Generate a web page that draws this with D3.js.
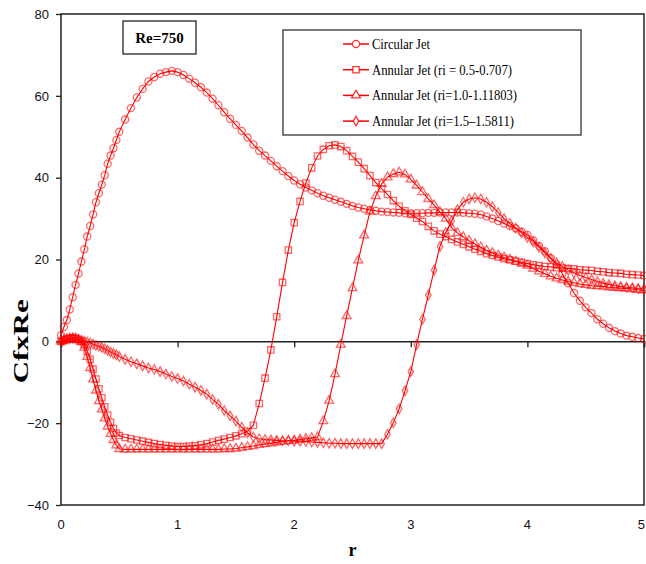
<!DOCTYPE html>
<html>
<head>
<meta charset="utf-8">
<script src="https://cdn.jsdelivr.net/npm/d3@7"></script>
<style>
  body { margin: 0; background: #fff; }
  svg { display: block; }
</style>
</head>
<body>
<div id="container"></div>
<script>
// r positions (shared by all series)
const rValues = [0, 0.025, 0.05, 0.075, 0.1, 0.125, 0.15, 0.175, 0.2, 0.225, 0.25, 0.275, 0.3, 0.325, 0.35, 0.375, 0.4, 0.425, 0.45, 0.475, 0.5,
  0.55, 0.6, 0.65, 0.7, 0.75, 0.8, 0.85, 0.9, 0.95, 1.0,
  1.05, 1.1, 1.15, 1.2, 1.25, 1.3, 1.35, 1.4, 1.45, 1.5,
  1.55, 1.6, 1.65, 1.7, 1.75, 1.8, 1.85, 1.9, 1.95, 2.0,
  2.05, 2.1, 2.15, 2.2, 2.25, 2.3, 2.35, 2.4, 2.45, 2.5,
  2.55, 2.6, 2.65, 2.7, 2.75, 2.8, 2.85, 2.9, 2.95, 3.0,
  3.05, 3.1, 3.15, 3.2, 3.25, 3.3, 3.35, 3.4, 3.45, 3.5,
  3.55, 3.6, 3.65, 3.7, 3.75, 3.8, 3.85, 3.9, 3.95, 4.0,
  4.05, 4.1, 4.15, 4.2, 4.25, 4.3, 4.35, 4.4, 4.45, 4.5,
  4.55, 4.6, 4.65, 4.7, 4.75, 4.8, 4.85, 4.9, 4.95, 5.0];

const circularJet = [1.5, 3.5, 5.2, 7.8, 10.8, 13.8, 16.6, 19.5, 22.5, 25.6, 28.2, 31.0, 34.0, 36.2, 38.3, 40.6, 43.4, 45.4, 47.2, 49.2, 51.2,
  54.2, 57.0, 59.6, 61.7, 63.5, 64.6, 65.4, 65.8, 66.1, 65.8,
  65.1, 64.2, 63.2, 62.1, 60.8, 59.3, 57.7, 56.0, 54.4, 52.9,
  51.4, 49.8, 48.1, 46.6, 45.4, 44.1, 42.8, 41.6, 40.4, 39.3,
  38.4, 37.6, 36.9, 36.2, 35.6, 35.1, 34.6, 34.1, 33.6, 33.1,
  32.7, 32.4, 32.1, 31.9, 31.7, 31.6, 31.5, 31.4, 31.3, 31.3,
  31.3, 31.3, 31.4, 31.4, 31.5, 31.5, 31.5, 31.5, 31.4, 31.3,
  31.2, 31.0, 30.5, 30.0, 29.4, 28.8, 28.2, 27.6, 26.8, 26.0,
  24.7, 23.3, 22.0, 20.4, 18.8, 16.5, 14.2, 11.8, 9.9, 8.3,
  6.9, 5.4, 4.3, 3.3, 2.5, 1.9, 1.4, 1.1, 0.8, 0.6];

const annular05 = [0, 0.3, 0.5, 0.7, 0.8, 0.7, 0.5, 0.1, -0.8, -2.4, -4.4, -6.8, -9.2, -11.6, -13.8, -16.0, -18.0, -19.8, -21.3, -22.4, -23.0,
  -23.5, -23.8, -24.1, -24.4, -24.7, -25.0, -25.2, -25.4, -25.6, -25.7,
  -25.7, -25.6, -25.5, -25.3, -25.0, -24.6, -24.2, -23.9, -23.5, -23.1,
  -22.6, -22.0, -20.5, -15.2, -9.0, -2.1, 6.0, 14.4, 22.3, 29.0,
  34.2, 38.7, 42.4, 45.3, 46.9, 47.8, 48.0, 47.6, 46.6, 45.2,
  43.8, 42.2, 40.5, 38.8, 37.3, 35.9, 34.4, 33.0, 31.9, 31.0,
  30.1, 29.3, 28.1, 27.0, 26.2, 25.6, 24.9, 24.3, 23.7, 23.1,
  22.5, 22.0, 21.4, 21.0, 20.6, 20.2, 19.9, 19.6, 19.3, 19.0,
  18.7, 18.5, 18.3, 18.2, 18.0, 17.9, 17.8, 17.7, 17.5, 17.4,
  17.3, 17.1, 17.0, 16.8, 16.7, 16.6, 16.4, 16.3, 16.2, 16.1];

const annular10 = [0, 0.3, 0.5, 0.7, 0.8, 0.7, 0.4, -0.2, -1.5, -3.8, -6.5, -9.3, -12.0, -14.6, -16.6, -18.8, -20.8, -22.6, -24.1, -25.4, -26.3,
  -26.4, -26.4, -26.4, -26.4, -26.4, -26.4, -26.4, -26.4, -26.4, -26.4,
  -26.4, -26.4, -26.4, -26.4, -26.4, -26.4, -26.4, -26.3, -26.3, -26.2,
  -26.0, -25.8, -25.6, -25.3, -25.1, -24.9, -24.7, -24.5, -24.3, -24.2,
  -24.0, -23.8, -23.6, -23.4, -19.5, -14.5, -8.0, -0.8, 6.2, 13.0,
  19.8, 25.9, 31.7, 35.5, 38.5, 40.1, 40.9, 41.3, 40.8, 39.6,
  38.1, 36.5, 34.8, 33.3, 31.6, 30.0, 27.8, 26.5, 25.5, 24.6,
  23.8, 23.0, 22.2, 21.6, 21.0, 20.5, 20.0, 19.5, 19.0, 18.5,
  17.8, 17.1, 16.5, 15.9, 15.4, 15.0, 14.6, 14.3, 14.0, 13.8,
  13.6, 13.5, 13.4, 13.2, 13.1, 13.0, 12.9, 12.8, 12.6, 12.5];

const annular15 = [0, 0.3, 0.5, 0.6, 0.7, 0.6, 0.4, 0.2, 0.0, -0.2, -0.4, -0.7, -1.0, -1.2, -1.5, -1.8, -2.2, -2.6, -3.0, -3.3, -3.7,
  -4.4, -5.0, -5.5, -6.0, -6.5, -6.9, -7.4, -8.0, -8.6, -9.1,
  -9.7, -10.5, -11.2, -12.0, -12.9, -14.2, -15.4, -16.9, -18.2, -19.5,
  -21.0, -22.4, -23.4, -23.8, -24.0, -24.1, -24.2, -24.3, -24.3, -24.4,
  -24.4, -24.5, -24.6, -24.7, -24.8, -24.9, -24.9, -25.0, -25.0, -25.0,
  -25.0, -25.0, -25.0, -25.0, -25.0, -22.7, -19.9, -16.5, -12.1, -7.4,
  -0.8, 5.4, 11.3, 17.4, 23.2, 26.6, 29.4, 32.2, 34.0, 34.8,
  35.1, 34.8, 34.0, 32.9, 31.5, 30.0, 28.8, 27.7, 26.5, 25.4,
  24.3, 23.0, 21.6, 20.2, 19.2, 18.3, 17.4, 16.7, 16.1, 15.6,
  15.1, 14.6, 14.2, 13.9, 13.6, 13.4, 13.2, 13.1, 12.9, 12.8];

const seriesNames = ["Circular Jet", "Annular Jet (ri = 0.5-0.707)", "Annular Jet (ri=1.0-1.11803)", "Annular Jet (ri=1.5\u20131.5811)"];
const xTicks = [0, 1, 2, 3, 4, 5];
const yTicks = [-40, -20, 0, 20, 40, 60, 80];

const width = 646;
const height = 564;
const red = "#ff0000";
const serif = "'Liberation Serif', 'Times New Roman', serif";
const sans = "'Liberation Sans', Arial, sans-serif";

const svg = d3.select("#container").append("svg")
  .attr("width", width)
  .attr("height", height);

const x = d3.scaleLinear().domain([0, 5]).range([61, 644]);
const y = d3.scaleLinear().domain([-40, 80]).range([505, 14]);

const series = [
  { name: seriesNames[0], values: circularJet, symbol: d3.symbolCircle, size: 40 },
  { name: seriesNames[1], values: annular05, symbol: d3.symbolSquare, size: 40 },
  { name: seriesNames[2], values: annular10, symbol: d3.symbolTriangle, size: 34 },
  { name: seriesNames[3], values: annular15, symbol: d3.symbolDiamond, size: 26 }
];

// plot frame
svg.append("rect")
  .attr("x", x(0)).attr("y", y(80))
  .attr("width", x(5) - x(0)).attr("height", y(-40) - y(80))
  .attr("fill", "none").attr("stroke", "#222").attr("stroke-width", 1.5);

// y axis ticks and labels
const yAxis = svg.append("g")
  .attr("transform", `translate(${x(0)},0)`)
  .call(d3.axisLeft(y).tickValues(yTicks).tickSize(5).tickPadding(7).tickFormat(d3.format("d")));
yAxis.select(".domain").remove();
yAxis.selectAll("line").attr("stroke", "#222").attr("stroke-width", 1.3);
yAxis.selectAll("text").attr("font-family", sans).attr("font-size", 13).attr("fill", "#111");

// zero line with x ticks hanging below
const xAxis = svg.append("g")
  .attr("transform", `translate(0,${y(0)})`)
  .call(d3.axisBottom(x).tickValues(xTicks).tickSize(6).tickFormat(""));
xAxis.select(".domain").attr("stroke", "#222").attr("stroke-width", 1.5);
xAxis.selectAll("line").attr("stroke", "#222").attr("stroke-width", 1.3);

// x tick labels at bottom of frame (last one kept inside the page)
svg.append("g").selectAll("text")
  .data(xTicks)
  .join("text")
  .attr("x", d => d === 5 ? width - 1 : x(d))
  .attr("y", y(-40) + 24)
  .attr("text-anchor", d => d === 5 ? "end" : "middle")
  .attr("font-family", sans)
  .attr("font-size", 13)
  .attr("fill", "#111")
  .text(d => d);

// axis titles
svg.append("text")
  .attr("transform", `translate(28,${y(0)}) rotate(-90)`)
  .attr("text-anchor", "middle")
  .attr("font-family", serif)
  .attr("font-weight", "bold")
  .attr("font-size", 20)
  .attr("textLength", 84)
  .attr("lengthAdjust", "spacingAndGlyphs")
  .text("CfxRe");

svg.append("text")
  .attr("x", x(2.5))
  .attr("y", 556)
  .attr("text-anchor", "middle")
  .attr("font-family", serif)
  .attr("font-weight", "bold")
  .attr("font-size", 18)
  .text("r");

// series
const line = d3.line()
  .x((d, i) => x(rValues[i]))
  .y(d => y(d));

series.forEach(s => {
  const g = svg.append("g");
  g.append("path")
    .datum(s.values)
    .attr("d", line)
    .attr("fill", "none")
    .attr("stroke", red)
    .attr("stroke-width", 1.1);
  g.selectAll("path.mk")
    .data(s.values)
    .join("path")
    .attr("class", "mk")
    .attr("transform", (d, i) => `translate(${x(rValues[i])},${y(d)})`)
    .attr("d", d3.symbol().type(s.symbol).size(s.size))
    .attr("fill", "none")
    .attr("stroke", red)
    .attr("stroke-opacity", 0.6)
    .attr("stroke-width", 1.3);
});

// Re box
svg.append("rect")
  .attr("x", 123).attr("y", 21).attr("width", 73).attr("height", 33)
  .attr("fill", "#fff").attr("stroke", "#111").attr("stroke-width", 1.2);
svg.append("text")
  .attr("x", 159.5).attr("y", 43)
  .attr("text-anchor", "middle")
  .attr("font-family", serif)
  .attr("font-weight", "bold")
  .attr("font-size", 15)
  .text("Re=750");

// legend
const legend = svg.append("g");
legend.append("rect")
  .attr("x", 283).attr("y", 30).attr("width", 298).attr("height", 105)
  .attr("fill", "#fff").attr("stroke", "#333").attr("stroke-width", 1.3);

const legendWidths = [58, 140, 145, 142];
const rows = legend.selectAll("g.row")
  .data(series)
  .join("g")
  .attr("class", "row")
  .attr("transform", (d, i) => `translate(0,${44 + i * 25.7})`);
rows.append("line")
  .attr("x1", 343).attr("x2", 369)
  .attr("stroke", red).attr("stroke-width", 1.5);
rows.append("path")
  .attr("transform", "translate(356,0)")
  .attr("d", d => d3.symbol().type(d.symbol).size(d.size)())
  .attr("fill", "#fff")
  .attr("stroke", red)
  .attr("stroke-opacity", 0.8)
  .attr("stroke-width", 1.3);
rows.append("text")
  .attr("x", 372)
  .attr("y", 5)
  .attr("font-family", serif)
  .attr("font-size", 15)
  .attr("textLength", (d, i) => legendWidths[i])
  .attr("lengthAdjust", "spacingAndGlyphs")
  .text(d => d.name);
</script>
</body>
</html>
